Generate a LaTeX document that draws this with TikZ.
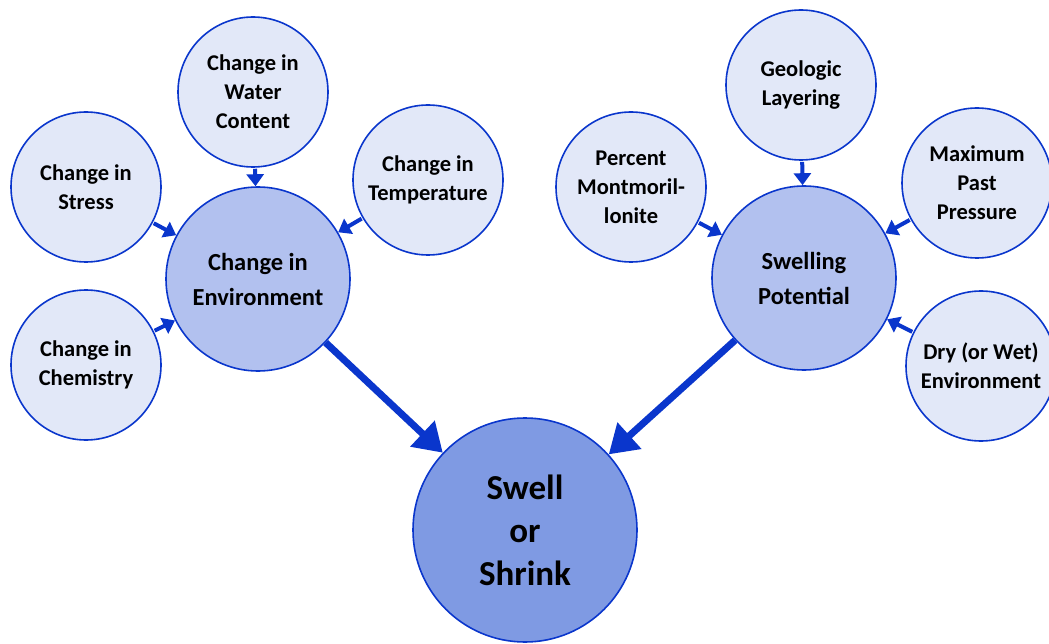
\documentclass[tikz,border=0pt]{standalone}
\usepackage{fontspec}
\setmainfont{Carlito}
\usepackage{xcolor}
\usepackage{tikz}
\usetikzlibrary{arrows.meta}
\definecolor{bluex}{HTML}{0A36CC}
\definecolor{paleb}{HTML}{E2E8F8}
\definecolor{midb}{HTML}{B2C1EF}
\definecolor{deepb}{HTML}{7F9AE3}
\tikzset{
  small/.style={circle,draw=bluex,line width=1.6pt,fill=paleb,minimum size=150pt,inner sep=0pt,align=center,font=\bfseries\fontsize{22.5}{29}\selectfont},
  mid/.style={circle,draw=bluex,line width=1.6pt,fill=midb,minimum size=184pt,inner sep=0pt,align=center,font=\bfseries\fontsize{24.5}{35}\selectfont},
  big/.style={circle,draw=bluex,line width=1.6pt,fill=deepb,minimum size=224pt,inner sep=0pt,align=center,font=\bfseries\fontsize{35}{43}\selectfont},
  ar/.style={-{Triangle[length=12pt,width=17pt]},line width=4pt,bluex,shorten <=1pt},
  bigar/.style={-{Triangle[length=28pt,width=34pt]},line width=7pt,bluex}
}
\begin{document}
\begin{tikzpicture}[x=1pt,y=-1pt]
\useasboundingbox (0,0) rectangle (1049,644);
% left group
\node[mid] (env) at (258,279) {Change in\\Environment};
\node[small] (water) at (253,92) {Change in\\Water\\Content};
\node[small] (stress) at (86,187) {Change in\\Stress};
\node[small] (temp) at (428,180) {Change in\\Temperature};
\node[small] (chem) at (86,365) {Change in\\Chemistry};
% right group
\node[mid] (swp) at (804,278) {Swelling\\Potential};
\node[small] (geo) at (801,85) {Geologic\\Layering};
\node[small] (mont) at (631,187) {Percent\\Montmoril-\\lonite};
\node[small] (press) at (977,183) {Maximum\\Past\\Pressure};
\node[small] (dry) at (981,366) {Dry (or Wet)\\Environment};
% result
\node[big] (swell) at (525,530) {Swell\\or\\Shrink};
% arrows
\draw[ar] (water) -- (env);
\draw[ar] (stress) -- (env);
\draw[ar] (temp) -- (env);
\draw[ar] (chem) -- (env);
\draw[ar] (geo) -- (swp);
\draw[ar] (mont) -- (swp);
\draw[ar] (press) -- (swp);
\draw[ar] (dry) -- (swp);
\draw[bigar] (env) -- (swell);
\draw[bigar] (swp) -- (swell);
\end{tikzpicture}
\end{document}
